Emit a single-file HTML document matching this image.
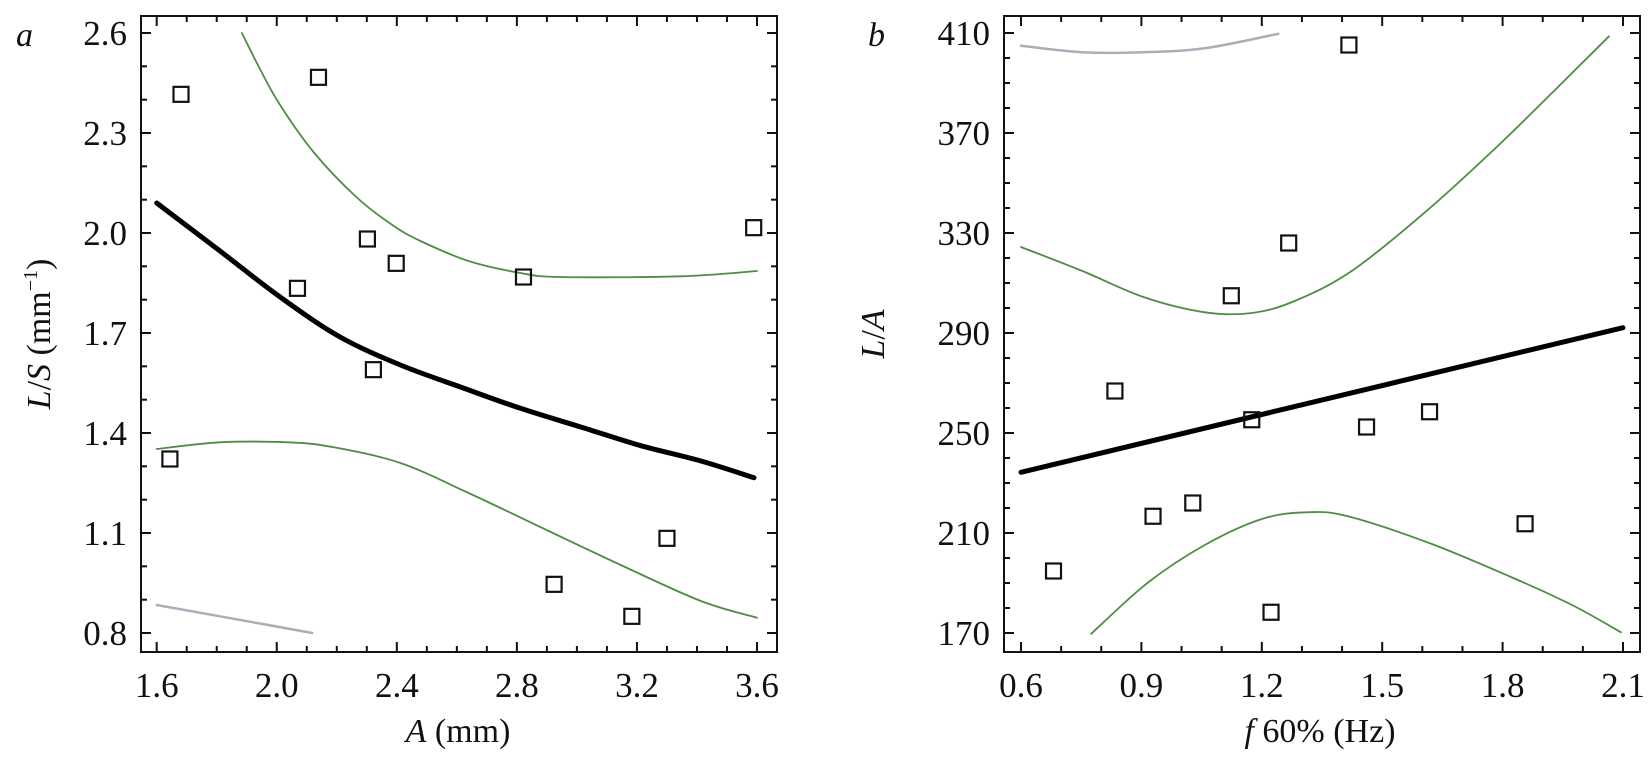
<!DOCTYPE html>
<html><head><meta charset="utf-8"><style>
body{margin:0;background:#fff}
svg text{font-family:"Liberation Serif",serif;fill:#111}
</style></head><body>
<svg id="c" width="1649" height="765" xmlns="http://www.w3.org/2000/svg"></svg>
<script>
// Panel a data
const aPtsX=[1.644,1.681,2.069,2.139,2.302,2.322,2.398,2.822,2.924,3.183,3.300,3.589];
const aPtsY=[1.322,2.416,1.834,2.467,1.982,1.590,1.909,1.868,0.946,0.850,1.084,2.016];
const aFitX=[1.6,1.811,2.011,2.211,2.412,2.612,2.812,3.013,3.213,3.413,3.59];
const aFitY=[2.09,1.946,1.808,1.688,1.604,1.538,1.474,1.418,1.362,1.316,1.266];
const aUpX=[1.884,1.944,2.011,2.125,2.265,2.385,2.479,2.639,2.812,2.946,3.346,3.6];
const aUpY=[2.6,2.492,2.384,2.24,2.108,2.024,1.976,1.916,1.88,1.868,1.87,1.886];
const aLoX=[1.6,1.811,2.038,2.185,2.412,2.639,2.906,3.146,3.413,3.6];
const aLoY=[1.352,1.372,1.372,1.358,1.31,1.22,1.106,1.004,0.896,0.846];
const aGrX=[1.6,1.811,2.118];
const aGrY=[0.884,0.85,0.8];
const aXTicks=["1.6","2.0","2.4","2.8","3.2","3.6"];
const aYTicks=["0.8","1.1","1.4","1.7","2.0","2.3","2.6"];
// Panel b data
const bPtsX=[0.681,0.834,0.929,1.028,1.124,1.175,1.223,1.267,1.417,1.461,1.618,1.856];
const bPtsY=[194.8,266.8,216.7,222,304.9,255.3,178.3,326,405.2,252.4,258.5,213.7];
const bFitX=[0.6,2.1];
const bFitY=[234.3,292.1];
const bUpX=[0.6,0.753,0.905,1.058,1.175,1.282,1.424,1.607,1.78,1.933,2.065];
const bUpY=[324.4,314.8,304.4,298.3,298,302.8,314.8,338.3,363.6,387.6,408.7];
const bLoX=[0.775,0.915,1.058,1.2,1.312,1.414,1.617,1.821,1.973,2.095];
const bLoY=[169.7,190,205.2,215.6,218.3,216.7,206,192.4,181.2,170.3];
const bGrX=[0.6,0.753,0.905,1.058,1.241];
const bGrY=[404.9,402.3,402.3,403.9,409.7];
const bXTicks=["0.6","0.9","1.2","1.5","1.8","2.1"];
const bYTicks=["170","210","250","290","330","370","410"];

const NS="http://www.w3.org/2000/svg";
const svg=document.getElementById('c');
function mk(tag,attrs,parent){const e=document.createElementNS(NS,tag);for(const k in attrs)e.setAttribute(k,attrs[k]);(parent||svg).appendChild(e);return e;}

function smooth(pts){
  if(pts.length<3)return pts.map((p,i)=>(i?'L':'M')+p[0].toFixed(1)+','+p[1].toFixed(1)).join(' ');
  let d='M'+pts[0][0].toFixed(1)+','+pts[0][1].toFixed(1);
  for(let i=0;i<pts.length-1;i++){
    const p0=pts[Math.max(0,i-1)],p1=pts[i],p2=pts[i+1],p3=pts[Math.min(pts.length-1,i+2)];
    const c1=[p1[0]+(p2[0]-p0[0])/6,p1[1]+(p2[1]-p0[1])/6];
    const c2=[p2[0]-(p3[0]-p1[0])/6,p2[1]-(p3[1]-p1[1])/6];
    d+=' C'+c1[0].toFixed(1)+','+c1[1].toFixed(1)+' '+c2[0].toFixed(1)+','+c2[1].toFixed(1)+' '+p2[0].toFixed(1)+','+p2[1].toFixed(1);
  }
  return d;
}

function panel(p){
  const g=mk('g',{});
  
  
  const X=v=>p.x0+(v-p.xmin)*(p.x1-p.x0)/(p.xmax-p.xmin);
  const Y=v=>p.y0+(p.ymax-v)*(p.y1-p.y0)/(p.ymax-p.ymin);
  const fr=mk('rect',{x:p.L,y:16,width:p.R-p.L,height:652-16,fill:'none',stroke:'#111','stroke-width':2},g);
  
  
  const nx=Math.round((p.xmax-p.xmin)/p.xminor);
  for(let i=0;i<=nx;i++){
    const v=p.xmin+i*p.xminor;const px=X(v);const maj=i%p.xper===0;const l=maj?10:6;
    mk('line',{x1:px,y1:652,x2:px,y2:652-l,stroke:'#111','stroke-width':2},g);
    mk('line',{x1:px,y1:16,x2:px,y2:16+l,stroke:'#111','stroke-width':2},g);
  }
  p.xt.forEach((t,i)=>{const v=p.xmin+i*p.xminor*p.xper;
    const e=mk('text',{x:X(v),y:697,'font-size':35,'text-anchor':'middle'},g);e.textContent=t;
    
    });
  const ny=Math.round((p.ymax-p.ymin)/p.yminor);
  for(let i=0;i<=ny;i++){
    const v=p.ymin+i*p.yminor;const py=Y(v);const maj=i%p.yper===0;const l=maj?10:6;
    mk('line',{x1:p.L,y1:py,x2:p.L+l,y2:py,stroke:'#111','stroke-width':2},g);
    mk('line',{x1:p.R,y1:py,x2:p.R-l,y2:py,stroke:'#111','stroke-width':2},g);
  }
  p.yt.forEach((t,i)=>{const v=p.ymin+i*p.yminor*p.yper;
    const e=mk('text',{x:p.L-14,y:Y(v)+12,'font-size':35,'text-anchor':'end'},g);e.textContent=t;
    
    });
  function line(xs,ys,col,w,name){
    const d=smooth(xs.map((x,i)=>[X(x),Y(ys[i])]));
    const e=mk('path',{d:d,fill:'none',stroke:col,'stroke-width':w,'stroke-linejoin':'round','stroke-linecap':'round'},g);
    
    
  }
  line(p.grX,p.grY,'#a8afb8',2.5,'gray-curve');
  line(p.upX,p.upY,'#4f8c45',1.8,'upper-confidence-band');
  line(p.loX,p.loY,'#4f8c45',1.8,'lower-confidence-band');
  line(p.fitX,p.fitY,'#000',5,'fit-line');
  p.px.forEach((x,i)=>{
    const r=mk('rect',{x:X(x)-7.5,y:Y(p.py[i])-7.5,width:15,height:15,fill:'none',stroke:'#111','stroke-width':2.2},g);
    
    
  });
}

panel({name:'panel-a',L:141,R:777,x0:156.7,x1:757,xmin:1.6,xmax:3.6,y0:33,y1:633,ymin:0.8,ymax:2.6,
  xminor:0.1,xper:4,yminor:0.1,yper:3,xt:aXTicks,yt:aYTicks,px:aPtsX,py:aPtsY,fitX:aFitX,fitY:aFitY,
  upX:aUpX,upY:aUpY,loX:aLoX,loY:aLoY,grX:aGrX,grY:aGrY});
panel({name:'panel-b',L:1004,R:1640,x0:1021,x1:1623,xmin:0.6,xmax:2.1,y0:33,y1:633,ymin:170,ymax:410,
  xminor:0.1,xper:3,yminor:10,yper:4,xt:bXTicks,yt:bYTicks,px:bPtsX,py:bPtsY,fitX:bFitX,fitY:bFitY,
  upX:bUpX,upY:bUpY,loX:bLoX,loY:bLoY,grX:bGrX,grY:bGrY});
</script>
<svg width="1649" height="765" style="position:absolute;left:0;top:0" xmlns="http://www.w3.org/2000/svg">
<text x="16" y="46" font-size="34" font-style="italic" style="font-family:'Liberation Serif',serif">a</text>
<text x="868" y="46" font-size="34" font-style="italic" style="font-family:'Liberation Serif',serif">b</text>
<text x="458" y="742" font-size="34" text-anchor="middle" style="font-family:'Liberation Serif',serif"><tspan font-style="italic">A</tspan>  (mm)</text>
<text x="1320" y="742" font-size="34" text-anchor="middle" style="font-family:'Liberation Serif',serif"><tspan font-style="italic">f</tspan> 60% (Hz)</text>
<text transform="translate(50,334) rotate(-90)" font-size="34" text-anchor="middle" style="font-family:'Liberation Serif',serif"><tspan font-style="italic">L</tspan>/<tspan font-style="italic">S</tspan> (mm<tspan font-size="20" dy="-13">−1</tspan><tspan dy="13">)</tspan></text>
<text transform="translate(884,334) rotate(-90)" font-size="34" text-anchor="middle" style="font-family:'Liberation Serif',serif"><tspan font-style="italic">L</tspan>/<tspan font-style="italic">A</tspan></text>
</svg>
</body></html>
